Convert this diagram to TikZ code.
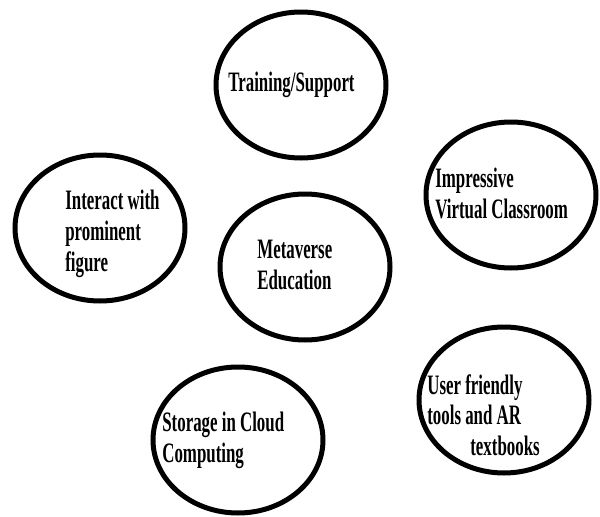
\documentclass[tikz,border=0pt]{standalone}
\usepackage{fontspec}
\setmainfont{Liberation Serif}[FakeStretch=0.6]
\usetikzlibrary{shapes.geometric}

\begin{document}
\begin{tikzpicture}[bubble/.style={ellipse, draw, line width=0.1cm, inner sep=0pt, minimum width=3.4cm, minimum height=2.92cm},
    txt/.style={anchor=west, align=left, inner sep=0pt, font=\fontsize{16}{17.5}\selectfont\bfseries}]
    \useasboundingbox (0,0) rectangle (12,10.32);

    \node[bubble] (train) at (6.02,8.62) {};
    \node[bubble] (virtual) at (10.22,6.42) {};
    \node[bubble] (interact) at (2.00,5.76) {};
    \node[bubble] (meta) at (6.10,4.98) {};
    \node[bubble] (tools) at (10.08,2.32) {};
    \node[bubble] (cloud) at (4.76,1.52) {};

    \node[txt] (train-t) at (4.56,8.62) {Training/Support};
    \node[txt] (virtual-t) at (8.70,6.45) {Impressive\\Virtual Classroom};
    \node[txt] (interact-t) at (1.30,5.64) {Interact with\\prominent\\figure};
    \node[txt] (meta-t) at (5.14,5.02) {Metaverse\\Education};
    \node[txt] (tools-t) at (8.54,2.02) {User friendly\\tools and AR\\\hspace*{0.86cm}textbooks};
    \node[txt] (cloud-t) at (3.24,1.52) {Storage in Cloud\\Computing};
\end{tikzpicture}
\end{document}
